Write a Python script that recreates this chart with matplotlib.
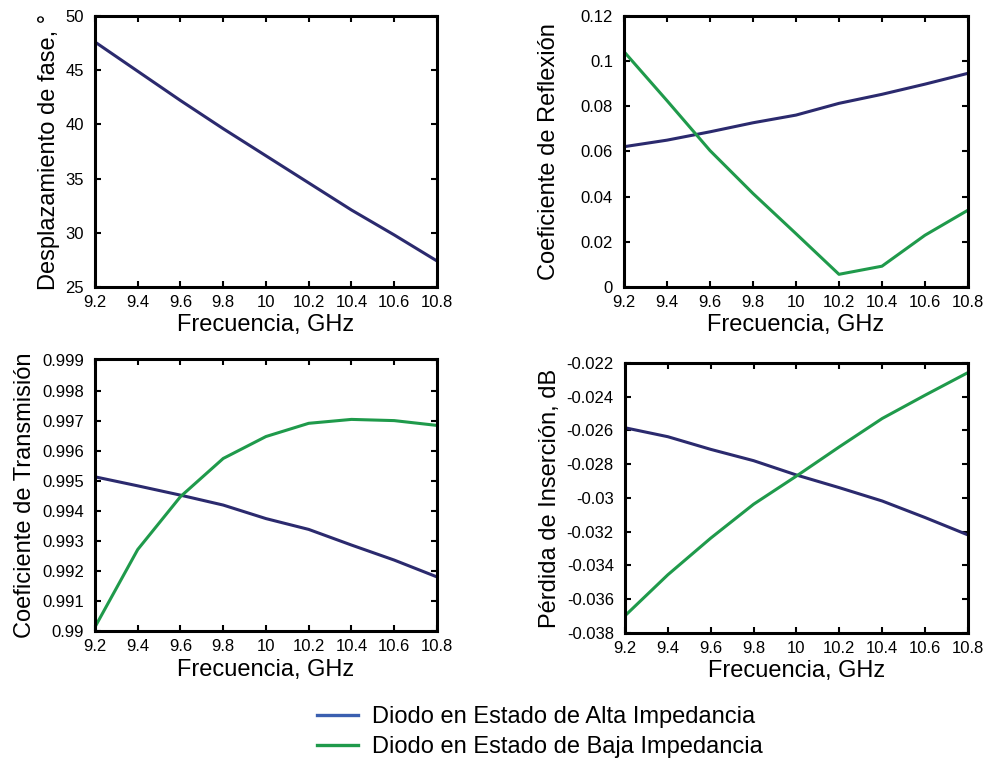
import numpy as np
import matplotlib.pyplot as plt
from matplotlib.lines import Line2D

plt.rcParams['font.family'] = ['Liberation Sans', 'DejaVu Sans']

freq = [9.2, 9.4, 9.6, 9.8, 10.0, 10.2, 10.4, 10.6, 10.8]

# desplazamiento de fase (grados)
fase = [47.6, 44.9, 42.2, 39.6, 37.1, 34.6, 32.1, 29.8, 27.4]

# coeficiente de reflexion
refl_alta = [0.0621, 0.0650, 0.0687, 0.0727, 0.0761, 0.0813, 0.0853, 0.0898, 0.0946]
refl_baja = [0.1042, 0.0825, 0.0604, 0.0414, 0.0236, 0.0056, 0.0092, 0.0229, 0.0340]

# coeficiente de transmision
trans_alta = [0.99513, 0.99483, 0.99452, 0.99419, 0.99374, 0.99338, 0.99286, 0.99236, 0.99180]
trans_baja = [0.99013, 0.99271, 0.99447, 0.99574, 0.99647, 0.99691, 0.99704, 0.99700, 0.99684]

# perdida de insercion (dB)
perd_alta = [-0.02584, -0.02637, -0.02712, -0.02779, -0.02864, -0.02939, -0.03018, -0.03116, -0.03219]
perd_baja = [-0.03698, -0.03455, -0.03238, -0.03037, -0.02870, -0.02697, -0.02529, -0.02391, -0.02257]

xticks = [9.2, 9.4, 9.6, 9.8, 10, 10.2, 10.4, 10.6, 10.8]
xticklabels = ["9.2", "9.4", "9.6", "9.8", "10", "10.2", "10.4", "10.6", "10.8"]

c_alta = "#2b2a6e"
c_baja = "#1f9a4b"
c_alta_leg = "#3a5fb0"
lw = 2.2

fig = plt.figure(figsize=(9.85, 7.63), dpi=100)

ax1 = fig.add_axes([0.0964, 0.6239, 0.3472, 0.3552])
ax2 = fig.add_axes([0.6335, 0.6239, 0.3492, 0.3552])
ax3 = fig.add_axes([0.0964, 0.1730, 0.3472, 0.3565])
ax4 = fig.add_axes([0.6345, 0.1704, 0.3482, 0.3539])


def style(ax, ylabel, ylim, yticks, yticklabels, ypad=4):
    ax.set_xlim(9.2, 10.8)
    ax.set_ylim(*ylim)
    ax.set_xticks(xticks)
    ax.set_xticklabels(xticklabels)
    ax.set_yticks(yticks)
    ax.set_yticklabels(yticklabels)
    ax.tick_params(direction="in", top=True, right=True, length=4, width=1.5,
                   labelsize=12)
    ax.tick_params(axis="x", pad=6)
    ax.tick_params(axis="y", pad=8)
    for s in ax.spines.values():
        s.set_linewidth(2.2)
    ax.set_xlabel("Frecuencia, GHz", fontsize=17, labelpad=3)
    ax.set_ylabel(ylabel, fontsize=17, labelpad=ypad)


ax1.plot(freq, fase, color=c_alta, lw=lw)
style(ax1, "Desplazamiento de fase, °", (25, 50),
      [25, 30, 35, 40, 45, 50], ["25", "30", "35", "40", "45", "50"])

ax2.plot(freq, refl_alta, color=c_alta, lw=lw)
ax2.plot(freq, refl_baja, color=c_baja, lw=lw)
style(ax2, "Coeficiente de Reflexión", (0, 0.12),
      [0, 0.02, 0.04, 0.06, 0.08, 0.1, 0.12],
      ["0", "0.02", "0.04", "0.06", "0.08", "0.1", "0.12"], ypad=15)

ax3.plot(freq, trans_alta, color=c_alta, lw=lw)
ax3.plot(freq, trans_baja, color=c_baja, lw=lw)
yt3 = [0.990, 0.991, 0.992, 0.993, 0.994, 0.995, 0.996, 0.997, 0.998, 0.999]
style(ax3, "Coeficiente de Transmisión", (0.99, 0.99905), yt3,
      ["0.99"] + ["%.3f" % v for v in yt3[1:]])

ax4.plot(freq, perd_alta, color=c_alta, lw=lw)
ax4.plot(freq, perd_baja, color=c_baja, lw=lw)
yt4 = [-0.038, -0.036, -0.034, -0.032, -0.03, -0.028, -0.026, -0.024, -0.022]
style(ax4, "Pérdida de Inserción, dB", (-0.038, -0.022), yt4,
      ["-0.038", "-0.036", "-0.034", "-0.032", "-0.03", "-0.028", "-0.026", "-0.024", "-0.022"])

handles = [Line2D([], [], color=c_alta_leg, lw=2.4),
           Line2D([], [], color=c_baja, lw=2.4)]
fig.legend(handles, ["Diodo en Estado de Alta Impedancia",
                     "Diodo en Estado de Baja Impedancia"],
           loc="center", bbox_to_anchor=(0.548, 0.0406), frameon=False,
           fontsize=17, handlelength=1.75, handletextpad=0.6, labelspacing=0.35,
           borderpad=0.2)

plt.savefig("out.png", dpi=100)
